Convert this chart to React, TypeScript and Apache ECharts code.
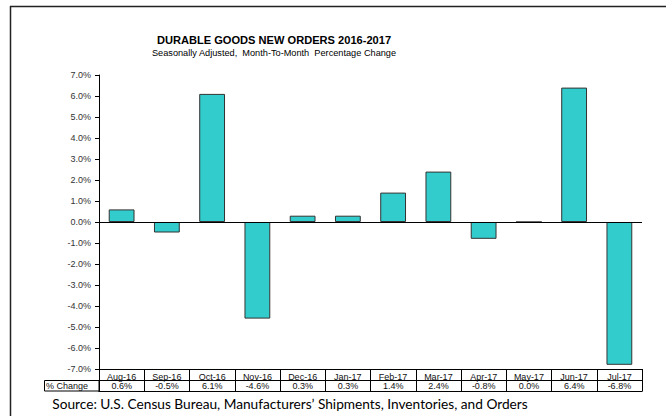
import React, { useEffect, useRef } from "react";
import * as echarts from "echarts";

const categories = ["Aug-16", "Sep-16", "Oct-16", "Nov-16", "Dec-16", "Jan-17", "Feb-17", "Mar-17", "Apr-17", "May-17", "Jun-17", "Jul-17"];
const pctChange = [0.6, -0.5, 6.1, -4.6, 0.3, 0.3, 1.4, 2.4, -0.8, 0.0, 6.4, -6.8];
const titleText = "DURABLE GOODS NEW ORDERS 2016-2017";
const subtitleText = "Seasonally Adjusted,  Month-To-Month  Percentage Change";
const rowLabel = "% Change";
const sourceText = "Source: U.S. Census Bureau, Manufacturers\u2019 Shipments, Inventories, and Orders";

const AX = "Liberation Sans, Arial, sans-serif";

export default function App() {
  const ref = useRef<HTMLDivElement>(null);
  useEffect(() => {
    if (!ref.current) return;
    const chart = echarts.init(ref.current, null, { renderer: "svg" });
    const gridLeft = 99;
    const gridRight = 666 - 642;
    chart.setOption({
      animation: false,
      backgroundColor: "#ffffff",
      title: [
        {
          text: titleText,
          left: 269,
          textAlign: "center",
          top: 29,
          textStyle: { fontFamily: AX, fontSize: 11.1, fontWeight: "bold", color: "#000" },
        },
        {
          text: subtitleText,
          left: 269,
          textAlign: "center",
          top: 43,
          textStyle: { fontFamily: AX, fontSize: 9.2, fontWeight: "normal", color: "#000" },
        },
      ],
      grid: [
        { left: gridLeft, right: gridRight, top: 75, height: 294 },
        { left: gridLeft, right: gridRight, top: 369, height: 22 },
      ],
      xAxis: [
        {
          type: "category",
          gridIndex: 0,
          data: categories,
          axisLine: { show: false },
          axisTick: { show: false },
          axisLabel: { show: false },
        },
        {
          type: "category",
          gridIndex: 1,
          position: "top",
          data: categories,
          axisLine: { show: true, lineStyle: { color: "#000", width: 1 } },
          axisTick: { show: false },
          splitLine: { show: true, lineStyle: { color: "#000", width: 1 } },
          axisLabel: { inside: true, margin: 3, fontFamily: AX, fontSize: 9, color: "#111", interval: 0 },
        },
        {
          type: "category",
          gridIndex: 1,
          position: "bottom",
          data: pctChange.map((v) => v.toFixed(1) + "%"),
          axisLine: { show: true, lineStyle: { color: "#000", width: 1 } },
          axisTick: { show: false },
          axisLabel: { inside: true, margin: 1, fontFamily: AX, fontSize: 9, color: "#111", interval: 0 },
        },
      ],
      yAxis: [
        {
          type: "value",
          gridIndex: 0,
          min: -7,
          max: 7,
          interval: 1,
          axisLine: { show: true, lineStyle: { color: "#000", width: 1 } },
          axisTick: { show: true, length: 4, lineStyle: { color: "#000" } },
          splitLine: { show: false },
          axisLabel: {
            margin: 8,
            fontFamily: AX,
            fontSize: 9,
            color: "#333",
            formatter: (v: number) => v.toFixed(1) + "%",
          },
        },
        {
          type: "value",
          gridIndex: 1,
          min: 0,
          max: 2,
          interval: 1,
          axisLine: { show: true, lineStyle: { color: "#000", width: 1 } },
          axisTick: { show: false },
          axisLabel: { show: false },
          splitLine: { show: true, lineStyle: { color: "#000", width: 1 } },
        },
      ],
      series: [
        {
          type: "bar",
          xAxisIndex: 0,
          yAxisIndex: 0,
          data: pctChange,
          barWidth: "57%",
          itemStyle: { color: "#33CCCC", borderColor: "#333", borderWidth: 1 },
          markLine: {
            silent: true,
            symbol: "none",
            label: { show: false },
            lineStyle: { color: "#000", width: 1, type: "solid" },
            data: [{ yAxis: 0 }],
          },
        },
      ],
      graphic: [
        {
          type: "line",
          shape: { x1: 10, y1: 6.5, x2: 666, y2: 6.5 },
          style: { stroke: "#222", lineWidth: 1.5 },
        },
        {
          type: "line",
          shape: { x1: 10.5, y1: 6, x2: 10.5, y2: 416 },
          style: { stroke: "#222", lineWidth: 1.5 },
        },
        {
          type: "rect",
          shape: { x: 44.5, y: 380.5, width: 54.5, height: 10.5 },
          style: { fill: "#fff", stroke: "#000", lineWidth: 1 },
        },
        {
          type: "text",
          x: 46,
          y: 386,
          style: { text: rowLabel, fontFamily: AX, fontSize: 9, fill: "#111", textVerticalAlign: "middle" },
        },
        {
          type: "text",
          x: 290,
          y: 403,
          style: {
            text: sourceText,
            fontFamily: "Lato, sans-serif",
            fontSize: 13.7,
            fill: "#000",
            textAlign: "center",
            textVerticalAlign: "middle",
          },
        },
      ],
    });
    return () => chart.dispose();
  }, []);
  return <div ref={ref} style={{ position: "fixed", left: 0, top: 0, width: 666, height: 416 }} />;
}
